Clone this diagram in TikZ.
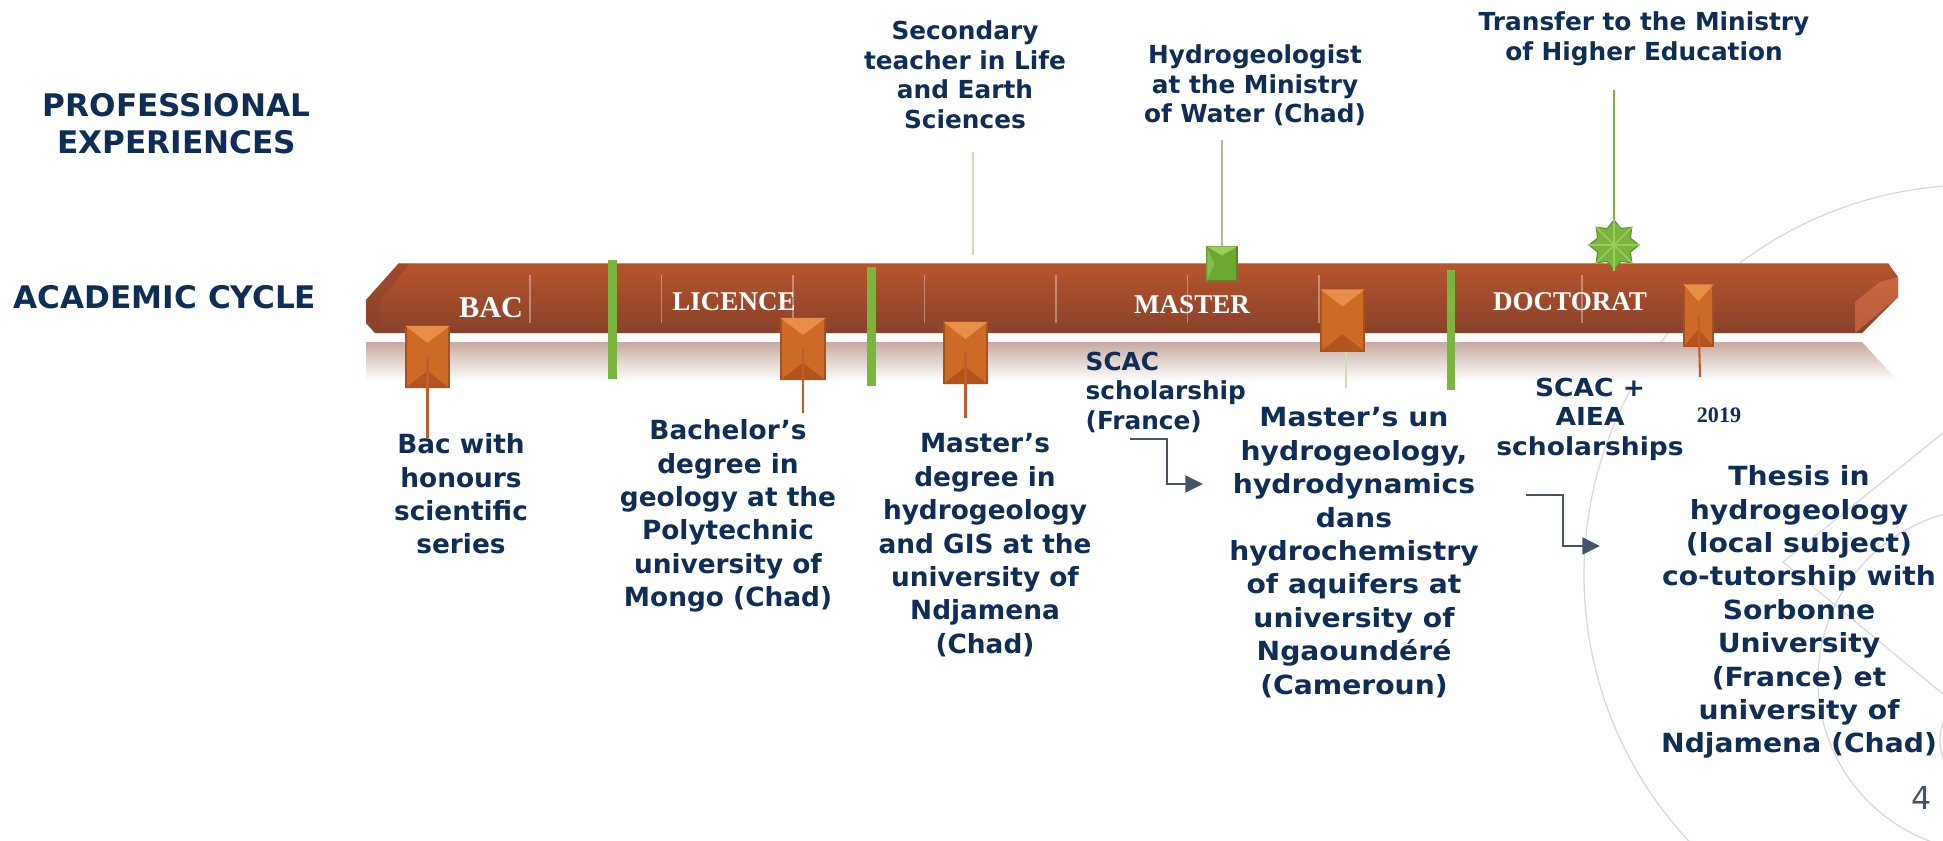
\documentclass[tikz,border=0pt]{standalone}
\usepackage{fontspec}
\setmainfont{DejaVu Sans}
\newfontfamily\barfont{Liberation Serif}
\newfontfamily\wideFont{DejaVu Sans}[FakeStretch=1.07]
\usetikzlibrary{shapes.geometric,arrows.meta}
\definecolor{navy}{RGB}{14,45,87}
\definecolor{barTop}{RGB}{184,84,45}
\definecolor{barBot}{RGB}{137,66,42}
\definecolor{barTip}{RGB}{222,120,78}
\definecolor{reflTop}{RGB}{198,170,160}
\definecolor{oMid}{RGB}{207,106,38}
\definecolor{oHi}{RGB}{232,142,72}
\definecolor{oLo}{RGB}{178,84,28}
\definecolor{oLine}{RGB}{168,80,30}
\definecolor{stemOrange}{RGB}{196,90,45}
\definecolor{greenBar}{RGB}{122,182,62}
\definecolor{greenBox}{RGB}{108,168,48}
\definecolor{greenHi}{RGB}{152,206,92}
\definecolor{stemPale}{RGB}{200,226,170}
\definecolor{stemHyd}{RGB}{166,200,136}
\definecolor{arrowGray}{RGB}{68,84,106}

\tikzset{
  txt/.style={font=\fontsize{7.5}{9.5}\selectfont\bfseries, text=navy, align=center, inner sep=0pt, anchor=north},
  widetxt/.style={txt, font=\wideFont\fontsize{7.5}{9.5}\selectfont\bfseries},
  toptxt/.style={txt, font=\fontsize{7.05}{8.45}\selectfont\bfseries},
  scactxt/.style={txt, font=\fontsize{7.05}{8.5}\selectfont\bfseries},
  headtxt/.style={txt, font=\fontsize{8.85}{10.5}\selectfont\bfseries},
  bartxt/.style={font=\barfont\bfseries\fontsize{7.7}{9}\selectfont, text=white, inner sep=0pt, anchor=base},
  obox/.style={rectangle, fill=oMid, draw=oLine, line width=0.3pt, inner sep=0pt, minimum height=0.61cm},
  ostem/.style={draw=stemOrange, line width=0.6pt},
  gbar/.style={fill=greenBar},
  sepline/.style={draw=white, opacity=0.35, line width=0.4pt},
  deco/.style={draw=black!15, line width=0.35pt},
  arr/.style={draw=arrowGray, line width=0.5pt, -{Triangle[length=5pt,width=4.8pt]}}
}

\begin{document}
\begin{tikzpicture}
        \useasboundingbox (0,0) rectangle (19.43,-8.40);
        \fill[white] (0,0) rectangle (19.43,-8.40);

        %background arcs
        \begin{scope}
          \clip (0,0) rectangle (19.43,-8.40);
          \draw[deco] (19.74,-5.75) circle (3.9);
          \draw[deco] (19.90,-6.80) circle (1.72);
          \draw[deco] (19.95,-7.40) circle (0.55);
          \draw[deco] (19.43,-4.33) -- (17.83,-5.62) -- (19.43,-6.94);
        \end{scope}

        %reflection under the bar
        \shade[top color=reflTop, bottom color=white] (3.66,-3.42) -- (18.62,-3.42)
        -- (18.98,-3.81) -- (3.66,-3.81) -- cycle;

        %bar
        \shade[top color=barTop, bottom color=barBot] (3.99,-2.63) -- (18.88,-2.63)
        -- (18.98,-2.77) -- (18.98,-2.97) -- (18.62,-3.33) -- (3.75,-3.33)
        -- (3.66,-3.23) -- (3.66,-3.00) -- cycle;
        \fill[barTip, opacity=0.55] (18.55,-3.33) -- (18.98,-2.97) -- (18.98,-2.77)
        -- (18.80,-2.82) -- (18.55,-3.02) -- cycle;
        \fill[barBot, opacity=0.5] (3.66,-3.00) -- (3.99,-2.63) -- (4.10,-2.63)
        -- (3.80,-3.00) -- (3.80,-3.25) -- (3.75,-3.33) -- (3.66,-3.23) -- cycle;
        \draw[white, opacity=0.3, line width=0.4pt] (3.99,-2.635) -- (18.88,-2.635);

        %separators
        \foreach \sx in {5.30,6.615,7.93,9.245,10.56,11.875,13.19,15.82}
          \draw[sepline] (\sx,-2.75) -- (\sx,-3.23);

        %green period bars
        \fill[gbar] (6.08,-2.60) rectangle (6.17,-3.79);
        \fill[gbar] (8.67,-2.67) rectangle (8.76,-3.86);
        \fill[gbar] (14.47,-2.70) rectangle (14.55,-3.90);

        %bar labels
        \node[bartxt, font=\barfont\bfseries\fontsize{8.6}{10}\selectfont] (bacLbl) at (4.91,-3.17) {BAC};
        \node[bartxt] (licLbl) at (7.34,-3.10) {LICENCE};
        \node[bartxt] (masLbl) at (11.92,-3.13) {MASTER};
        \node[bartxt] (docLbl) at (15.70,-3.10) {DOCTORAT};

        %orange milestones
        \foreach \nm/\cx/\cy/\w in {bacBox/4.275/3.57/0.43, bachBox/8.03/3.49/0.44,
          mdegBox/9.655/3.53/0.43, munBox/13.425/3.205/0.43, docBox/16.985/3.155/0.29}
        {
          \node[obox, minimum width=\w cm] (\nm) at (\cx,-\cy) {};
          \fill[oHi] (\nm.north west) -- (\nm.north east) -- ([yshift=-0.17cm]\nm.north) -- cycle;
          \fill[oLo] (\nm.south west) -- (\nm.south east) -- ([yshift=0.17cm]\nm.south) -- cycle;
        }
        \coordinate (bacEnd) at (4.275,-4.38);
        \coordinate (bachEnd) at (8.03,-4.13);
        \coordinate (mdegEnd) at (9.655,-4.18);
        \coordinate (munEnd) at (13.46,-3.88);
        \coordinate (docEnd) at (17.00,-3.77);
        \draw[ostem] (bacBox.center) -- (bacEnd);
        \draw[ostem] (bachBox.center) -- (bachEnd);
        \draw[ostem] (mdegBox.center) -- (mdegEnd);
        \draw[draw=stemPale, line width=0.6pt] (munBox.south -| munEnd) -- (munEnd);
        \draw[ostem] (docBox.center) -- (docEnd);

        %professional markers
        \coordinate (secTop) at (9.73,-1.52);
        \coordinate (secEnd) at (9.73,-2.55);
        \draw[draw=stemPale, line width=0.5pt] (secTop) -- (secEnd);

        \node[rectangle, fill=greenBox, draw=greenBox!80!black, line width=0.3pt, inner sep=0pt,
          minimum width=0.30cm, minimum height=0.34cm] (hydBox) at (12.22,-2.64) {};
        \fill[greenHi] (hydBox.north west) -- (hydBox.north east) -- ([yshift=-0.09cm]hydBox.north) -- cycle;
        \fill[greenHi, opacity=0.6] (hydBox.north west) -- (hydBox.south west) -- ([xshift=0.08cm]hydBox.west) -- cycle;
        \coordinate (hydTop) at (12.22,-1.40);
        \draw[draw=stemHyd, line width=0.6pt] (hydTop) -- (hydBox.north);

        \node[star, star points=8, star point ratio=1.4, minimum size=0.5cm, inner sep=0pt,
          fill=greenBar, draw=greenBox!85!black, line width=0.3pt] (trfStar) at (16.14,-2.45) {};
        \foreach \k in {1,...,8}
          \draw[greenHi, line width=0.4pt] (trfStar.center) -- (trfStar.outer point \k);
        \coordinate (trfTop) at (16.14,-0.90);
        \draw[draw=greenBar, line width=0.6pt] (trfTop) -- (trfStar.north);

        %side headings
        \node[headtxt] (proHead) at (1.765,-0.93) {PROFESSIONAL\\EXPERIENCES};
        \node[headtxt, anchor=base] (acaHead) at (1.65,-3.08) {ACADEMIC CYCLE};

        %professional texts
        \node[toptxt] (secTxt) at (9.65,-0.20) {Secondary\\teacher in Life\\and Earth\\Sciences};
        \node[toptxt] (hydTxt) at (12.55,-0.44) {Hydrogeologist\\at the Ministry\\of Water (Chad)};
        \node[toptxt] (trfTxt) at (16.44,-0.11) {Transfer to the Ministry\\of Higher Education};

        %academic texts
        \node[txt] (bacTxt) at (4.61,-4.33) {Bac with\\honours\\scientific\\series};
        \node[txt] (bachTxt) at (7.28,-4.19) {Bachelor’s\\degree in\\geology at the\\Polytechnic\\university of\\Mongo (Chad)};
        \node[txt] (mdegTxt) at (9.85,-4.33) {Master’s\\degree in\\hydrogeology\\and GIS at the\\university of\\Ndjamena\\(Chad)};
        \node[widetxt] (munTxt) at (13.54,-4.07) {Master’s un\\hydrogeology,\\hydrodynamics\\dans\\hydrochemistry\\of aquifers at\\university of\\Ngaoundéré\\(Cameroun)};
        \node[widetxt] (thsTxt) at (17.99,-4.65) {Thesis in\\hydrogeology\\(local subject)\\co-tutorship with\\Sorbonne\\University\\(France) et\\university of\\Ndjamena (Chad)};

        %scholarships
        \node[scactxt, anchor=north west, align=left] (scacA) at (10.85,-3.51) {SCAC\\scholarship\\(France)};
        \node[scactxt, font=\wideFont\fontsize{7.05}{8.5}\selectfont\bfseries] (scacB) at (15.90,-3.77) {SCAC +\\AIEA\\scholarships};
        \coordinate (a1s) at (11.30,-4.39);
        \coordinate (a1e) at (12.03,-4.84);
        \draw[arr] (a1s) -- ++(0.37,0) |- (a1e);
        \coordinate (a2s) at (15.26,-4.95);
        \coordinate (a2e) at (16.00,-5.46);
        \draw[arr] (a2s) -- ++(0.37,0) |- (a2e);

        \node[font=\barfont\bfseries\fontsize{6.3}{7}\selectfont, text=navy, inner sep=0pt, anchor=base] (yrTxt) at (17.19,-4.22) {2019};
        \node[font=\fontsize{9}{10}\selectfont, text=arrowGray, inner sep=0pt, anchor=base] (pgNum) at (19.22,-8.09) {4};
      \end{tikzpicture}
\end{document}
